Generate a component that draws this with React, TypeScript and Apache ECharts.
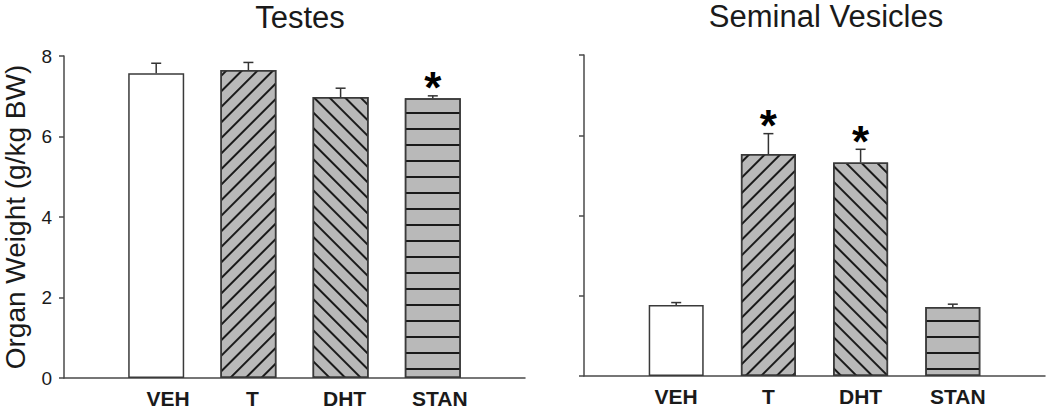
import React, { useEffect, useRef } from "react";
import * as echarts from "echarts";

const categories = ["VEH", "T", "DHT", "STAN"];
const yTicks = [0, 2, 4, 6, 8];
const testesMean = [7.57, 7.65, 6.98, 6.95];
const testesErr = [0.25, 0.19, 0.22, 0.06];
const testesSig = [0, 0, 0, 1];
const seminalMean = [1.77, 5.53, 5.32, 1.72];
const seminalErr = [0.06, 0.51, 0.33, 0.07];
const seminalSig = [0, 1, 1, 0];

const FONT = "'Liberation Sans', Arial, Helvetica, sans-serif";
const AXIS = "#4a4a4a";
const GRAY = "#b9b9b9";
const INK = "#1a1a1a";

// horizontal nudges (px) of category labels, as in the reference
const leftLabelShift = [12, 4, 4, 7];
const rightLabelShift = [0, 0, 0, 5];

const decals: any[] = [
  null,
  { symbol: "rect", symbolSize: 1, dashArrayX: [1, 0], dashArrayY: [1.6, 8.5], rotation: -Math.PI / 4, color: INK },
  { symbol: "rect", symbolSize: 1, dashArrayX: [1, 0], dashArrayY: [1.6, 8.5], rotation: Math.PI / 4, color: INK },
  { symbol: "rect", symbolSize: 1, dashArrayX: [1, 0], dashArrayY: [1.8, 13.4], rotation: 0, color: INK },
];

function barData(means: number[]) {
  return means.map((m, i) => ({
    value: [i + 1, m],
    itemStyle: {
      color: i === 0 ? "#ffffff" : GRAY,
      borderColor: "#3a3a3a",
      borderWidth: 1.5,
      decal: decals[i] || undefined,
    },
  }));
}

function errData(means: number[], errs: number[], sig: number[]) {
  return means.map((m, i) => [i + 1, m, errs[i], sig[i]]);
}

function renderErr(params: any, api: any) {
  const x = api.value(0);
  const m = api.value(1);
  const e = api.value(2);
  const s = api.value(3);
  const base = api.coord([x, m]);
  const top = api.coord([x, m + e]);
  const children: any[] = [
    {
      type: "line",
      shape: { x1: base[0], y1: base[1], x2: top[0], y2: top[1] },
      style: { stroke: "#333", lineWidth: 1.5 },
    },
    {
      type: "line",
      shape: { x1: top[0] - 5, y1: top[1], x2: top[0] + 5, y2: top[1] },
      style: { stroke: "#333", lineWidth: 1.5 },
    },
  ];
  if (s) {
    children.push({
      type: "text",
      style: {
        text: "*",
        x: top[0],
        y: top[1] - 18 + 10,
        textAlign: "center",
        textVerticalAlign: "middle",
        font: `bold 44px ${FONT}`,
        fill: "#000",
      },
    });
  }
  return { type: "group", children };
}

function makeXAxis(gridIndex: number, shifts: number[]) {
  const rich: any = {};
  categories.forEach((_, i) => {
    rich["c" + i] = {
      fontSize: 21,
      lineHeight: 20,
      fontWeight: "bold",
      fontFamily: FONT,
      color: INK,
      padding: [0, 0, 0, shifts[i] * 2],
    };
  });
  return {
    type: "value",
    gridIndex,
    min: 0,
    max: 5,
    interval: 1,
    axisLine: { show: true, lineStyle: { color: AXIS, width: 1.5 } },
    axisTick: { show: true, inside: true, length: 5, customValues: [5], lineStyle: { color: AXIS, width: 1.5 } },
    splitLine: { show: false },
    axisLabel: {
      margin: 10,
      lineHeight: 20,
      showMaxLabel: false,
      formatter: (v: number) => {
        const i = Math.round(v) - 1;
        return i >= 0 && i < categories.length ? `{c${i}|${categories[i]}}` : "";
      },
      rich,
    },
  };
}

function makeYAxis(gridIndex: number, showLabels: boolean) {
  return {
    type: "value",
    gridIndex,
    min: yTicks[0],
    max: yTicks[yTicks.length - 1],
    interval: 2,
    axisLine: { show: true, onZero: false, lineStyle: { color: AXIS, width: 1.5 } },
    axisTick: { show: true, inside: false, length: 5, lineStyle: { color: AXIS, width: 1.5 } },
    splitLine: { show: false },
    axisLabel: { show: showLabels, fontSize: 19, fontFamily: FONT, color: INK, margin: 12 },
    name: showLabels ? "Organ Weight (g/kg BW)" : "",
    nameLocation: "middle",
    nameRotate: 90,
    nameGap: 35,
    nameMoveOverlap: false,
    nameTextStyle: { fontSize: 28, lineHeight: 28, fontFamily: FONT, color: INK },
  };
}

export default function App() {
  const ref = useRef<HTMLDivElement>(null);
  useEffect(() => {
    document.body.style.margin = "0";
    if (!ref.current) return;
    const chart = echarts.init(ref.current, null, { renderer: "svg" });
    chart.setOption({
      animation: false,
      backgroundColor: "#ffffff",
      graphic: [
        {
          type: "text",
          style: { text: "Testes", x: 300, y: 17, textAlign: "center", textVerticalAlign: "middle", font: `31px ${FONT}`, fill: INK },
        },
        {
          type: "text",
          style: { text: "Seminal Vesicles", x: 826, y: 16.5, textAlign: "center", textVerticalAlign: "middle", font: `31px ${FONT}`, fill: INK },
        },
      ],
      grid: [
        { left: 64, top: 56, width: 461, height: 322, containLabel: false, outerBoundsMode: "none" },
        { left: 584, top: 55, width: 461, height: 321, containLabel: false, outerBoundsMode: "none" },
      ],
      xAxis: [makeXAxis(0, leftLabelShift), makeXAxis(1, rightLabelShift)],
      yAxis: [makeYAxis(0, true), makeYAxis(1, false)],
      series: [
        { type: "bar", xAxisIndex: 0, yAxisIndex: 0, barWidth: 56, data: barData(testesMean) },
        { type: "bar", xAxisIndex: 1, yAxisIndex: 1, barWidth: 55, data: barData(seminalMean) },
        { type: "custom", xAxisIndex: 0, yAxisIndex: 0, clip: false, renderItem: renderErr, data: errData(testesMean, testesErr, testesSig), z: 5 },
        { type: "custom", xAxisIndex: 1, yAxisIndex: 1, clip: false, renderItem: renderErr, data: errData(seminalMean, seminalErr, seminalSig), z: 5 },
      ],
    });
    return () => chart.dispose();
  }, []);
  return <div ref={ref} style={{ width: 1050, height: 409 }} />;
}
